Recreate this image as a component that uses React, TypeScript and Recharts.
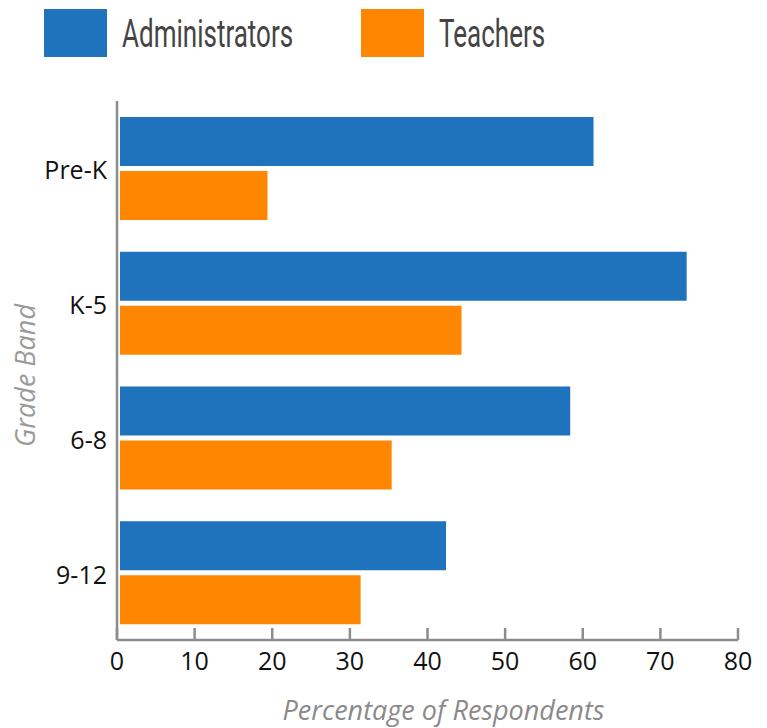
import { BarChart, Bar, XAxis, YAxis, Legend, Rectangle } from 'recharts';

const grades = ['Pre-K', 'K-5', '6-8', '9-12'];
const administrators = [61, 73, 58, 42];
const teachers = [19, 44, 35, 31];
const xTicks = [0, 10, 20, 30, 40, 50, 60, 70, 80];

const data = grades.map((grade, i) => ({
    grade,
    administrators: administrators[i],
    teachers: teachers[i]
}));

const BLUE = '#1e73bc';
const ORANGE = '#ff8600';
const AXIS = '#8c8c8c';
const FONT = '"Open Sans", sans-serif';

// legend drawn as big squares with condensed titles
function LegendBoxes(props: any) {
    const payload = props.payload || [];
    return (
        <svg width={767} height={60} style={{ display: 'block' }}>
            {payload.map((entry: any, i: number) => {
                const x = 44 + i * 317;
                return (
                    <g key={entry.value}>
                        <rect x={x} y={9} width={63} height={48} fill={entry.color} />
                        <text
                            transform={`translate(${x + 78},47) scale(0.685,1)`}
                            fontFamily="Roboto"
                            fontSize={38}
                            fill="#444"
                        >
                            {entry.value}
                        </text>
                    </g>
                );
            })}
        </svg>
    );
}

// bars sit a few px off the axis line
const shiftedBar = (props: any) => <Rectangle {...props} x={props.x + 3} />;

const XLabel = (props: any) => {
    const { viewBox } = props;
    return (
        <text
            x={viewBox.x + viewBox.width / 2 + 16}
            y={viewBox.y + 80}
            textAnchor="middle"
            fontFamily={FONT}
            fontStyle="italic"
            fontSize={27}
            fill="#8a8a8a"
        >
            Percentage of Respondents
        </text>
    );
};

const YLabel = (props: any) => {
    const { viewBox } = props;
    const cx = viewBox.x + 24;
    const cy = viewBox.y + viewBox.height / 2 + 5;
    return (
        <text
            x={cx}
            y={cy}
            transform={`rotate(-90, ${cx}, ${cy})`}
            textAnchor="middle"
            dominantBaseline="central"
            fontFamily={FONT}
            fontStyle="italic"
            fontSize={27}
            fill="#9a9a9a"
        >
            Grade Band
        </text>
    );
};

export default function App() {
    return (
        <div style={{ position: 'absolute', left: 0, top: 0, background: '#fff' }}>
            <BarChart
                width={767}
                height={728}
                data={data}
                layout="vertical"
                margin={{ top: 41, right: 29, bottom: 0, left: 0 }}
                barSize={49}
                barGap={5}
                style={{ fontFamily: FONT }}
            >
                <Legend
                    verticalAlign="top"
                    align="left"
                    content={<LegendBoxes />}
                    wrapperStyle={{ top: 0, left: 0 }}
                />
                <XAxis
                    type="number"
                    domain={[0, 80]}
                    ticks={xTicks}
                    interval={0}
                    height={88}
                    axisLine={{ stroke: AXIS, strokeWidth: 2.5 }}
                    tickLine={{ stroke: AXIS, strokeWidth: 2.5 }}
                    tickSize={-12}
                    tickMargin={24}
                    tick={{ fill: '#111', fontSize: 25, fontFamily: FONT }}
                    label={<XLabel />}
                />
                <YAxis
                    type="category"
                    dataKey="grade"
                    width={117}
                    axisLine={{ stroke: AXIS, strokeWidth: 2.5 }}
                    tickLine={false}
                    tickSize={8}
                    tickMargin={2}
                    tick={{ fill: '#111', fontSize: 25, fontFamily: FONT, dy: 2 }}
                    label={<YLabel />}
                />
                <Bar
                    dataKey="administrators"
                    name="Administrators"
                    fill={BLUE}
                    shape={shiftedBar}
                    isAnimationActive={false}
                />
                <Bar
                    dataKey="teachers"
                    name="Teachers"
                    fill={ORANGE}
                    shape={shiftedBar}
                    isAnimationActive={false}
                />
            </BarChart>
        </div>
    );
}
